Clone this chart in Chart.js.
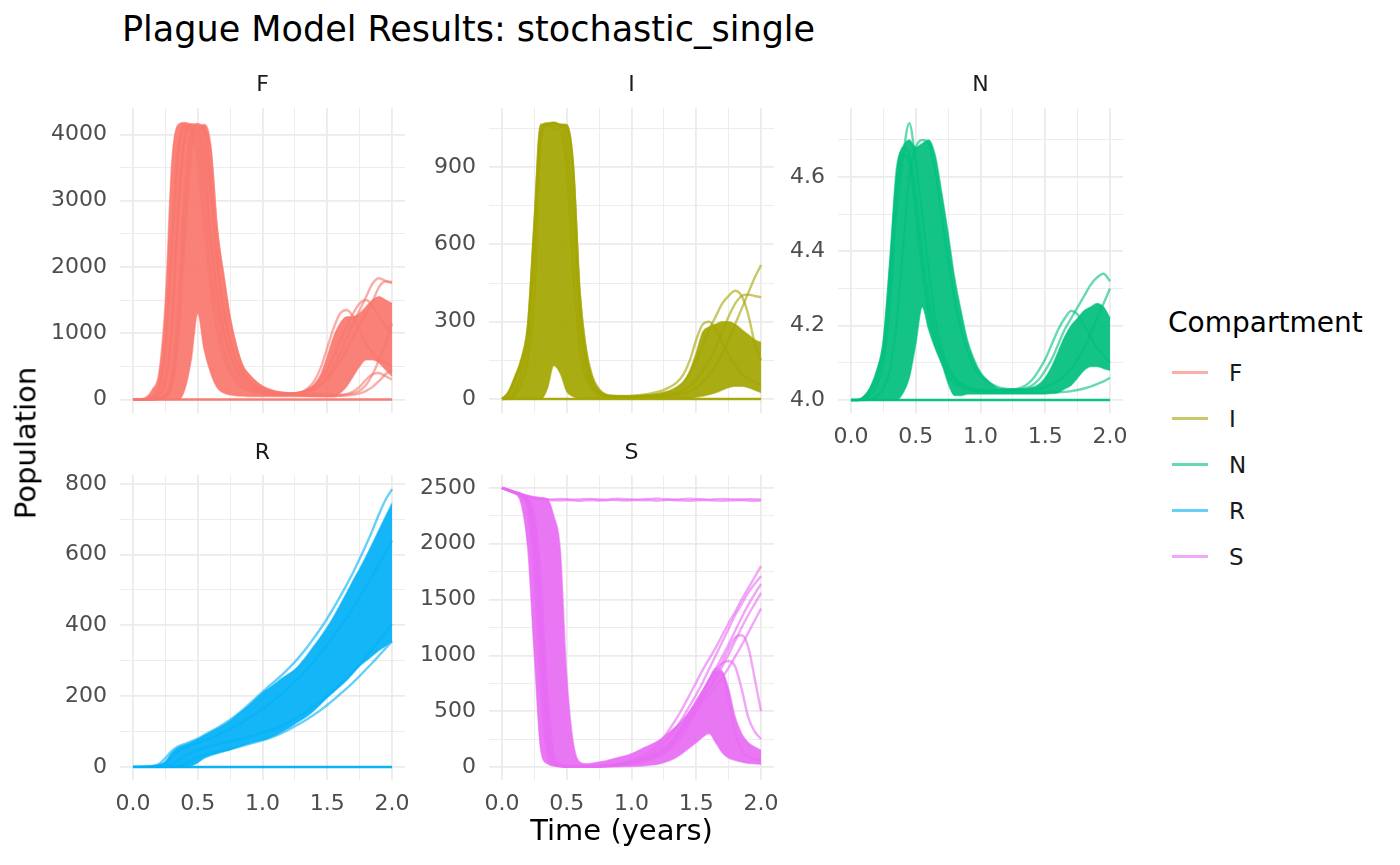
<!DOCTYPE html>
<html>
<head>
<meta charset="utf-8">
<script src="https://cdn.jsdelivr.net/npm/chart.js@4.4.0/dist/chart.umd.min.js"></script>
<style>
body { margin: 0; background: #fff; width: 1400px; height: 865px; position: relative; overflow: hidden; font-family: "DejaVu Sans", sans-serif; }
canvas { position: absolute; }
.t { position: absolute; white-space: nowrap; line-height: 1; }
.key { position: absolute; height: 3px; width: 36px; left: 1172px; }
</style>
</head>
<body>
<script>
// time grid (years)
var times = [0,0.05,0.1,0.15,0.2,0.25,0.3,0.35,0.4,0.45,0.5,0.55,0.6,0.65,0.7,0.75,0.8,0.85,0.9,0.95,1.0,1.05,1.1,1.15,1.2,1.25,1.3,1.35,1.4,1.45,1.5,1.55,1.6,1.65,1.7,1.75,1.8,1.85,1.9,1.95,2.0];
var dieTimes = [0, 2.0];

// axis ticks
var xMajor = [0, 0.5, 1.0, 1.5, 2.0];
var xMinor = [0.25, 0.75, 1.25, 1.75];
var fMajor = [0, 1000, 2000, 3000, 4000], fMinor = [500, 1500, 2500, 3500];
var iMajor = [0, 300, 600, 900], iMinor = [150, 450, 750, 1050];
var nMajor = [4.0, 4.2, 4.4, 4.6], nMinor = [4.1, 4.3, 4.5, 4.7];
var rMajor = [0, 200, 400, 600, 800], rMinor = [100, 300, 500, 700];
var sMajor = [0, 500, 1000, 1500, 2000, 2500], sMinor = [250, 750, 1250, 1750, 2250];

// F : dense band of runs + a few single runs
var fHi = [0,5,30,150,400,1500,3600,4150,4180,4150, 4120,4150,3850,2600,1880,1250,800,500,370,270, 200,150,120,100,95,100,115,160,230,380, 650,950,1150,1250,1250,1300,1400,1500,1550,1500, 1450];
var fLo = [0,0,0,0,0,0,0,0,150,600, 1300,750,400,180,100,70,55,50,45,45, 45,45,45,45,45,45,45,45,45,45, 45,45,100,200,350,500,600,600,550,450, 350];
var fA = [0,2,10,50,200,900,2500,3800,4100,4050, 3600,2600,1700,1050,650,400,260,180,130,100, 80,70,65,65,70,80,110,170,280,480, 780,1080,1300,1350,1250,1050,850,700,600,550, 500];
var fB = [0,0,5,20,80,300,1200,3000,4000,4150, 4100,3400,2400,1600,1000,650,420,280,200,150, 120,100,90,85,85,90,100,120,160,230, 340,500,700,920,1150,1350,1550,1750,1830,1790, 1770];
var fC = [0,1,8,40,150,700,2200,3700,4150,4100, 3900,3000,2000,1300,800,500,330,220,160,120, 95,80,75,75,80,90,105,140,200,300, 450,650,880,1100,1300,1450,1500,1400,1250,1100, 1000];
var fD = [0,0,0,5,20,80,400,1500,3200,4050, 4150,4100,3300,2200,1400,900,600,400,280,200, 160,130,110,100,95,90,90,90,85,80, 75,70,70,75,90,130,220,380,600,850, 1150];
var fE = [0,0,0,2,10,40,200,900,2400,3700, 4100,4050,3750,2550,1850,1200,780,490,360,260, 190,150,120,100,85,75,65,60,55,50, 50,50,55,60,70,90,130,190,280,380, 450];
var fF = [0,0,3,15,60,250,1000,2800,3900,4150, 4150,3700,2500,1600,1050,700,460,310,220,165, 130,110,95,90,90,95,105,125,160,220, 310,430,580,760,950,1130,1300,1480,1700,1780, 1760];
var fG = [0,0,0,3,12,50,250,1100,2800,3900, 4150,4000,3100,2000,1300,850,560,380,270,200, 150,120,100,90,80,70,62,56,52,50, 50,52,60,80,120,190,300,380,400,350, 300];
var fDie = [0, 0];

// I
var iHi = [0,30,90,160,300,700,1060,1070,1075,1065, 1065,920,430,200,90,40,20,15,13,12, 12,13,15,17,20,25,32,45,65,110, 180,260,280,290,300,300,290,270,250,230, 220];
var iLo = [0,0,0,0,0,0,0,40,130,100, 30,10,4,4,4,4,4,4,4,4, 4,4,4,4,4,4,4,4,4,4, 8,12,18,25,35,45,50,50,45,35, 25];
var iA = [0,20,70,140,260,650,1060,1060,1050,1040, 900,500,200,80,35,18,12,10,10,10, 10,12,14,16,20,25,32,45,65,100, 150,210,270,320,370,400,420,400,330,220, 150];
var iB = [0,5,30,100,220,600,1040,1070,1060,1060, 1050,880,420,180,70,30,15,10,8,8, 8,9,10,12,14,16,20,26,35,50, 75,110,150,200,260,320,370,400,405,400, 395];
var iC = [0,2,15,60,150,400,1000,1065,1070,1065, 1060,900,380,150,55,25,14,10,8,8, 8,8,9,10,11,12,14,17,22,30, 45,65,95,130,175,230,290,350,410,470, 520];
var iD = [0,25,80,150,280,680,1065,1060,1070,1060, 1000,700,300,120,45,20,14,12,12,12, 13,15,18,22,28,36,48,65,95,150, 230,290,300,270,220,170,130,100,80,65, 55];
var iDie = [0, 0];

// N
var nHi = [4.0,4.0,4.01,4.035,4.08,4.16,4.377,4.62,4.68,4.70, 4.68,4.69,4.70,4.66,4.56,4.45,4.33,4.24,4.16,4.11, 4.075,4.055,4.04,4.03,4.03,4.03,4.03,4.031,4.034,4.042, 4.06,4.09,4.13,4.17,4.2,4.22,4.24,4.25,4.26,4.25, 4.22];
var nLo = [4,4,4,4,4,4,4,4,4.018,4.06, 4.15,4.25,4.19,4.14,4.1,4.045,4.012,4.012,4.016,4.016, 4.016,4.016,4.016,4.016,4.016,4.016,4.016,4.016,4.016,4.016, 4.016,4.018,4.02,4.03,4.04,4.06,4.08,4.09,4.09,4.085, 4.08];
var nA = [4.0,4.0,4.003,4.015,4.04,4.1,4.25,4.5,4.65,4.745, 4.64,4.5,4.35,4.22,4.14,4.09,4.06,4.045,4.035,4.03, 4.028,4.026,4.025,4.025,4.025,4.026,4.028,4.032,4.04,4.055, 4.08,4.11,4.15,4.19,4.22,4.25,4.28,4.31,4.33,4.34, 4.32];
var nB = [4.0,4.0,4.008,4.03,4.075,4.15,4.35,4.58,4.68,4.66, 4.55,4.4,4.27,4.18,4.12,4.08,4.055,4.04,4.032,4.028, 4.026,4.025,4.025,4.025,4.026,4.028,4.032,4.04,4.055,4.08, 4.11,4.15,4.19,4.22,4.24,4.23,4.2,4.17,4.14,4.12, 4.1];
var nC = [4.0,4.0,4.0,4.002,4.01,4.03,4.08,4.2,4.4,4.6, 4.68,4.7,4.69,4.62,4.5,4.38,4.27,4.19,4.13,4.09, 4.065,4.05,4.04,4.033,4.03,4.028,4.027,4.027,4.028,4.03, 4.035,4.042,4.052,4.065,4.085,4.11,4.14,4.18,4.22,4.26, 4.3];
var nD = [4,4,4.006,4.025,4.06,4.13,4.3,4.55,4.66,4.64, 4.5,4.35,4.23,4.15,4.1,4.065,4.045,4.035,4.028,4.024, 4.022,4.02,4.02,4.02,4.02,4.02,4.02,4.02,4.02,4.02, 4.02,4.02,4.021,4.022,4.024,4.027,4.031,4.036,4.043,4.05, 4.06];
var nDie = [4, 4];

// R
var rHi = [0,0,1,3,6,15,40,55,62,70, 78,88,98,108,118,130,145,160,175,192, 209,222,236,250,262,275,295,318,343,368, 395,425,458,492,527,560,595,632,670,708, 745];
var rLo = [0,0,0,0,0,0,0,0,0,3, 12,25,32,38,43,48,55,61,67,72, 76,82,90,100,110,122,133,145,160,178, 196,212,228,245,265,285,300,315,330,342, 355];
var rA = [0,0,1,3,8,25,45,58,65,72, 80,90,100,110,121,133,147,162,178,195, 212,228,244,260,278,297,318,341,366,392, 420,450,482,515,550,588,628,670,715,755, 785];
var rB = [0,0,0,1,3,10,28,45,55,62, 68,75,82,90,98,107,117,128,140,152, 165,178,192,207,223,240,258,278,300,322, 346,370,396,423,451,480,510,541,573,606, 640];
var rC = [0,0,0,0,1,3,8,18,30,40, 48,54,59,64,68,72,76,80,85,90, 96,102,109,117,126,136,147,159,172,186, 201,217,234,252,271,291,312,334,357,381, 405];
var rD = [0,0,0,0,0,0,0,2,8,18, 28,34,39,43,47,51,55,60,65,70, 75,81,88,96,105,115,125,136,148,161, 175,190,206,222,239,257,276,295,315,335, 355];
var rDie = [0, 0];

// S
var sHi = [2500,2480,2462,2445,2430,2420,2412,2400,2250,1950, 825,224,45,30,35,45,55,70,85,100, 120,145,175,200,230,270,320,370,430,500, 580,680,780,860,850,700,450,300,220,180, 150];
var sLo = [2500,2478,2455,2350,1950,1000,150,30,10,5, 3,2,2,2,2,2,2,2,3,4, 6,8,12,18,25,40,60,90,130,175, 220,270,300,220,130,80,60,45,35,30, 25];
var sFlat1 = [2500,2480,2460,2445,2430,2415,2405,2400,2398,2402, 2400,2395,2398,2402,2400,2397,2395,2400,2403,2400, 2398,2395,2400,2402,2405,2400,2398,2396,2400,2403, 2400,2398,2395,2400,2402,2400,2398,2396,2400,2398, 2395];
var sFlat2 = [2500,2478,2455,2438,2420,2405,2395,2392,2390,2388, 2392,2390,2386,2390,2392,2388,2390,2393,2390,2387, 2390,2392,2389,2390,2386,2390,2393,2390,2388,2385, 2390,2392,2390,2387,2385,2388,2390,2392,2388,2386, 2388];
var sA = [2500,2485,2465,2445,2400,2250,1700,700,120,20, 8,5,4,5,7,10,15,22,32,45, 62,82,108,145,200,270,350,440,540,650, 760,870,970,1070,1180,1290,1390,1500,1600,1700, 1800];
var sB = [2500,2482,2460,2440,2380,2150,1400,400,60,12, 6,4,4,5,6,9,13,19,27,38, 52,70,92,120,160,215,280,360,450,550, 650,760,880,1000,1120,1240,1360,1460,1560,1640, 1710];
var sC = [2500,2480,2458,2435,2350,2000,1100,250,40,10, 5,4,3,4,5,7,10,14,20,28, 38,50,66,88,115,155,210,290,380,490, 590,680,780,880,990,1100,1220,1340,1450,1550, 1640];
var sD = [2500,2478,2455,2430,2320,1850,900,180,30,8, 4,3,3,3,4,6,8,12,17,24, 33,44,58,76,100,135,180,270,350,430, 520,610,700,800,900,1010,1130,1250,1360,1460, 1560];
var sE = [2500,2477,2452,2425,2300,1700,700,120,20,6, 3,3,2,3,4,5,7,10,14,20, 28,38,50,66,88,118,160,220,300,400, 500,580,650,720,800,890,990,1090,1200,1310, 1420];
var sF = [2500,2483,2462,2442,2390,2200,1550,550,90,15, 7,4,3,4,6,8,12,17,24,34, 46,60,78,100,130,170,220,290,380,480, 560,630,700,820,940,1060,1160,1180,1080,800, 500];
var sG = [2500,2481,2460,2438,2360,2050,1200,300,50,10, 5,4,3,4,5,7,10,15,21,30, 42,56,74,96,125,165,215,280,370,480, 580,680,780,870,930,950,900,700,450,320, 250];
var sH = [2500,2480,2459,2437,2370,2100,1300,350,60,12, 6,4,3,4,5,7,10,14,20,28, 38,50,66,86,112,145,190,250,330,430, 540,660,780,880,850,600,300,150,90,70, 60];

var FONT = "DejaVu Sans";

function rgba(c, a) { return 'rgba(' + c[0] + ',' + c[1] + ',' + c[2] + ',' + a + ')'; }
function pts(xs, vals) { return xs.map(function (t, i) { return { x: t, y: vals[i] }; }); }

function text(str, x, base, size, color, align) {
    var d = document.createElement('div');
    d.className = 't';
    d.textContent = str;
    d.style.fontSize = size + 'px';
    d.style.color = color;
    d.style.top = (base - 0.846 * size) + 'px';
    d.style.left = x + 'px';
    if (align == 'center') {
        d.style.transform = 'translateX(-50%)';
    }
    document.body.appendChild(d);
    return d;
}

function panel(o) {
    // room round the plot area for labels; padT must beat chart.js' own label padding
    var padL = 100, padT = 40, padR = 25, axH = 45;
    var w = o.right - o.left, h = o.bottom - o.top;
    var c = document.createElement('canvas');
    c.width = w + padL + padR;
    c.height = h + padT + axH;
    c.style.left = (o.left - padL) + 'px';
    c.style.top = (o.top - padT) + 'px';
    document.body.appendChild(c);

    var ds = [];
    if (o.die) {
        ds.push({ data: pts(dieTimes, o.die), borderColor: rgba(o.rgb, 0.95), borderWidth: 2.5, fill: false });
    }
    o.lines.forEach(function (l) {
        ds.push({ data: pts(times, l), borderColor: rgba(o.rgb, 0.6), borderWidth: 2.4, fill: false });
    });
    ds.push({ data: pts(times, o.lo), borderColor: rgba(o.rgb, 0.6), borderWidth: 1.5, fill: false });
    ds.push({ data: pts(times, o.hi), borderColor: rgba(o.rgb, 0.6), borderWidth: 1.5, backgroundColor: rgba(o.rgb, 0.92), fill: '-1' });

    var xTicks = xMajor.concat(xMinor).sort(function (a, b) { return a - b; });
    var yTicks = o.major.concat(o.minor).sort(function (a, b) { return a - b; });

    new Chart(c, {
        type: 'line',
        data: { datasets: ds },
        options: {
            responsive: false,
            animation: false,
            events: [],
            layout: { padding: { left: 0, top: padT, right: padR, bottom: 0 } },
            elements: { point: { radius: 0 }, line: { cubicInterpolationMode: 'monotone' } },
            plugins: { legend: { display: false }, tooltip: { enabled: false } },
            scales: {
                x: {
                    type: 'linear', min: -0.1, max: 2.1,
                    afterFit: function (s) { s.height = axH; },
                    afterBuildTicks: function (s) { s.ticks = xTicks.map(function (v) { return { value: v }; }); },
                    ticks: {
                        display: o.showX, autoSkip: false, maxRotation: 0, padding: 11,
                        color: '#4d4d4d', font: { family: FONT, size: 22 },
                        callback: function (v) { return xMajor.indexOf(v) >= 0 ? v.toFixed(1) : ''; }
                    },
                    grid: {
                        color: '#ebebeb', drawTicks: false,
                        lineWidth: function (ctx) { return xMajor.indexOf(ctx.tick.value) >= 0 ? 1.8 : 0.9; }
                    },
                    border: { display: false }
                },
                y: {
                    type: 'linear', min: o.yMin, max: o.yMax,
                    afterFit: function (s) { s.width = padL; },
                    afterBuildTicks: function (s) { s.ticks = yTicks.map(function (v) { return { value: v }; }); },
                    ticks: {
                        autoSkip: false, padding: 13,
                        color: '#4d4d4d', font: { family: FONT, size: 22 },
                        callback: function (v) { return o.major.indexOf(v) >= 0 ? v.toFixed(o.dec) : ''; }
                    },
                    grid: {
                        color: '#ebebeb', drawTicks: false,
                        lineWidth: function (ctx) { return o.major.indexOf(ctx.tick.value) >= 0 ? 1.8 : 0.9; }
                    },
                    border: { display: false }
                }
            }
        }
    });
}

var colF = [248, 118, 109], colI = [163, 165, 0], colN = [0, 191, 125], colR = [0, 176, 246], colS = [231, 107, 243];

panel({ left: 120, right: 405, top: 108, bottom: 413, rgb: colF, hi: fHi, lo: fLo, lines: [fA, fB, fC, fD, fE, fF, fG], die: fDie,
    yMin: -205, yMax: 4400, major: fMajor, minor: fMinor, dec: 0, showX: false });
panel({ left: 489, right: 774, top: 108, bottom: 413, rgb: colI, hi: iHi, lo: iLo, lines: [iA, iB, iC, iD], die: iDie,
    yMin: -54, yMax: 1129, major: iMajor, minor: iMinor, dec: 0, showX: false });
panel({ left: 838, right: 1123, top: 108, bottom: 413, rgb: colN, hi: nHi, lo: nLo, lines: [nA, nB, nC, nD], die: nDie,
    yMin: 3.965, yMax: 4.786, major: nMajor, minor: nMinor, dec: 1, showX: true });
panel({ left: 120, right: 405, top: 475, bottom: 780, rgb: colR, hi: rHi, lo: rLo, lines: [rA, rB, rC, rD], die: rDie,
    yMin: -37, yMax: 825, major: rMajor, minor: rMinor, dec: 0, showX: true });
panel({ left: 489, right: 774, top: 475, bottom: 780, rgb: colS, hi: sHi, lo: sLo, lines: [sFlat1, sFlat2, sA, sB, sC, sD, sE, sF, sG, sH], die: null,
    yMin: -116, yMax: 2616, major: sMajor, minor: sMinor, dec: 0, showX: true });

// texts
text('Plague Model Results: stochastic_single', 122, 42, 35, '#000');
text('F', 262.5, 92, 22, '#1a1a1a', 'center');
text('I', 631.5, 92, 22, '#1a1a1a', 'center');
text('N', 980.5, 92, 22, '#1a1a1a', 'center');
text('R', 262.5, 460, 22, '#1a1a1a', 'center');
text('S', 631.5, 460, 22, '#1a1a1a', 'center');
text('Time (years)', 621.5, 841, 29, '#000', 'center');

var pop = document.createElement('div');
pop.className = 't';
pop.textContent = 'Population';
pop.style.fontSize = '29px';
pop.style.color = '#000';
pop.style.left = '25.5px';
pop.style.top = '443px';
pop.style.transform = 'translate(-50%,-50%) rotate(-90deg)';
document.body.appendChild(pop);

// legend
var legNames = ['F', 'I', 'N', 'R', 'S'];
var legCols = [colF, colI, colN, colR, colS];
text('Compartment', 1168, 333, 28, '#000');
legNames.forEach(function (n, i) {
    var k = document.createElement('div');
    k.className = 'key';
    k.style.top = (371 + i * 46) + 'px';
    k.style.background = rgba(legCols[i], 0.6);
    document.body.appendChild(k);
    text(n, 1229, 381 + i * 46, 23, '#1a1a1a');
});
</script>
</body>
</html>
